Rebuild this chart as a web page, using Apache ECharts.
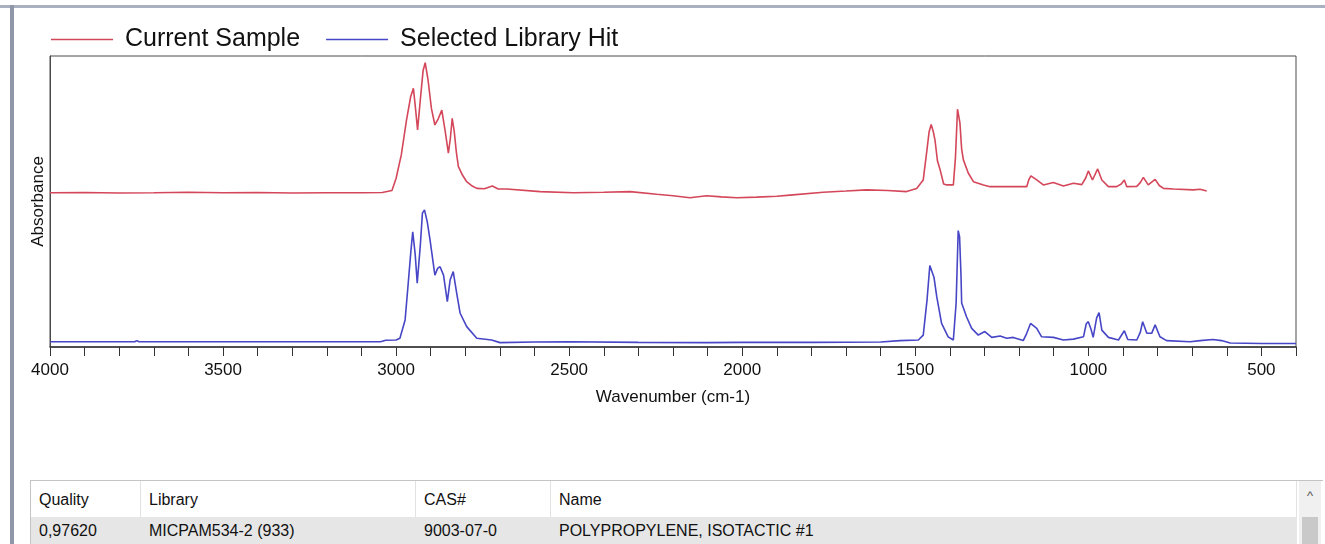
<html>
<head>
<meta charset="UTF-8">
<script src="https://cdn.jsdelivr.net/npm/echarts@6/dist/echarts.min.js"></script>
<title>Spectrum search</title>
<style>
body { margin: 0; background: #fff; font-family: "Liberation Sans", Arial, sans-serif; }
#wrap { position: relative; width: 1325px; height: 544px; overflow: hidden; }
#topbar { position: absolute; left: 0; top: 5px; width: 1325px; height: 3px; background: #a9b0bf; }
#leftbar { position: absolute; left: 10px; top: 5px; width: 4px; height: 539px; background: #8f97a8; }
#main { position: absolute; left: 0; top: 0; width: 1325px; height: 440px; }
#hits { position: absolute; left: 30px; top: 480px; width: 1292px; height: 64px; border-top: 1px solid #c4c4c4; border-left: 1px solid #c4c4c4; font-size: 16px; color: #111; }
#hits .row { position: absolute; left: 0; width: 1266px; }
#hits .cell { position: absolute; top: 0; height: 100%; padding-left: 8px; box-sizing: border-box; }
#hits .head .cell { border-right: 1px solid #e2e2e2; }
#scroll { position: absolute; left: 1268px; top: 0; width: 22px; height: 64px; background: #f0f0f0; }
#thumb { position: absolute; left: 3px; top: 36px; width: 16px; height: 40px; background: #c9c9c9; }
</style>
</head>
<body>
<div id="wrap">
	<div id="topbar"></div>
	<div id="leftbar"></div>
	<div id="main"></div>
	<div id="hits"></div>
</div>
<script type="text/javascript">
	// wavenumber (cm-1), absorbance (arbitrary, sample drawn above the hit)
	var sampleSpectrum = [
		[4000, 53.0], [3900, 53.1], [3800, 52.9], [3700, 53.0], [3600, 53.2], [3500, 53.0],
		[3400, 53.1], [3300, 52.9], [3200, 53.0], [3100, 53.0], [3040, 53.1], [3012, 53.8],
		[3000, 58], [2985, 66], [2970, 78], [2958, 86], [2950, 88.9], [2944, 82], [2938, 74.6],
		[2930, 85], [2922, 95], [2916, 97.7], [2908, 92], [2898, 82], [2888, 76.3], [2878, 78.5],
		[2868, 81.4], [2858, 74], [2849, 66.6], [2843, 72], [2838, 78.6], [2832, 74], [2826, 67],
		[2820, 62.0], [2808, 59], [2796, 56.8], [2780, 55.3], [2767, 54.5], [2745, 54.4],
		[2722, 55.3], [2705, 54.3], [2680, 54.3], [2584, 53.4], [2488, 53.0], [2400, 53.2],
		[2324, 53.4], [2247, 52.5], [2200, 52.0], [2151, 51.3], [2103, 52.0], [2060, 51.6],
		[2016, 51.3], [1958, 51.5], [1900, 51.8], [1862, 52.2], [1766, 53.2], [1700, 53.6],
		[1640, 54.0], [1580, 53.8], [1525, 53.4], [1496, 54.5], [1477, 57.4], [1466, 68],
		[1460, 74], [1454, 76.5], [1448, 74], [1443, 71.1], [1436, 64], [1428, 60.8], [1418, 56],
		[1409, 55.7], [1390, 55.7], [1384, 65], [1378, 81.7], [1371, 77.0], [1366, 68],
		[1361, 64.3], [1347, 59.8], [1332, 56.8], [1303, 55.7], [1284, 55.1], [1255, 55.1],
		[1207, 55.1], [1178, 55.1], [1172, 57.5], [1166, 58.8], [1149, 57.4], [1130, 55.7],
		[1101, 56.5], [1072, 55.3], [1043, 56.3], [1019, 55.8], [1008, 58], [1000, 60.5],
		[988, 57.4], [973, 61.2], [961, 57.4], [942, 55.1], [918, 55.1], [905, 56], [896, 57.4],
		[889, 55.1], [860, 55.2], [850, 56.5], [841, 58.3], [827, 55.7], [807, 57.6], [795, 55.5],
		[783, 54.5], [754, 54.3], [697, 54.0], [677, 54.2], [658, 53.6]
	];
	var libraryHitSpectrum = [
		[4000, 1.8], [3800, 1.8], [3755, 1.8], [3749, 2.2], [3743, 1.8], [3500, 1.8], [3200, 1.8],
		[3045, 1.8], [3030, 2.3], [3000, 2.4], [2989, 3.0], [2974, 9.3], [2965, 21.9], [2958, 32],
		[2952, 39.6], [2945, 32], [2939, 21.9], [2930, 35], [2924, 46], [2918, 47.1], [2910, 43],
		[2902, 36.8], [2888, 24.7], [2880, 27], [2873, 27.6], [2863, 24.7], [2852, 15.6],
		[2844, 23], [2835, 25.9], [2825, 18.5], [2815, 11.6], [2796, 7.0], [2767, 3.0],
		[2724, 2.4], [2700, 1.5], [2600, 1.7], [2500, 1.8], [2300, 1.6], [2100, 1.5], [2000, 1.6],
		[1800, 1.6], [1600, 1.7], [1544, 2.2], [1491, 2.4], [1477, 4.1], [1466, 16.2], [1458, 28],
		[1453, 27.6], [1446, 24], [1438, 17.3], [1424, 8.1], [1405, 3.5], [1390, 2.4], [1382, 15.1],
		[1376, 40], [1372, 37.9], [1368, 25], [1366, 15.1], [1352, 10.4], [1337, 6.4], [1318, 4.1],
		[1299, 5.3], [1279, 3.3], [1255, 3.8], [1236, 3.0], [1217, 3.3], [1188, 2.2], [1178, 4.7],
		[1167, 8.1], [1149, 6.4], [1135, 3.5], [1101, 3.3], [1072, 2.4], [1043, 2.7], [1014, 3.5],
		[1006, 8], [1000, 8.7], [992, 6], [986, 3.3], [976, 10], [969, 11.8], [961, 5.8],
		[942, 3.3], [913, 2.4], [896, 5.6], [886, 2.6], [860, 2.4], [850, 5], [843, 8.7],
		[831, 4.7], [817, 4.7], [807, 7.6], [793, 3.5], [774, 2.2], [706, 1.8], [677, 2.2],
		[640, 2.6], [615, 2.2], [590, 1.4], [500, 1.2], [400, 1.2]
	];
	var xLabelValues = [4000, 3500, 3000, 2500, 2000, 1500, 1000, 500];

	var hitColumns = [ 'Quality', 'Library', 'CAS#', 'Name' ];
	var hitColumnLeft = [ 0, 110, 385, 520 ];
	var hitRow = [ '0,97620', 'MICPAM534-2 (933)', '9003-07-0', 'POLYPROPYLENE, ISOTACTIC #1' ];

	function buildTable() {
		var t = document.getElementById('hits');
		var html = '<div class="row head" style="top:0;height:36px;line-height:38px">';
		for (var i = 0; i < hitColumns.length; i++) {
			var w = (i < hitColumns.length - 1 ? hitColumnLeft[i + 1] : 1266) - hitColumnLeft[i];
			html += '<div class="cell" style="left:' + hitColumnLeft[i] + 'px;width:' + w + 'px">' + hitColumns[i] + '</div>';
		}
		html += '</div><div class="row" style="top:36px;height:30px;line-height:28px;background:#e6e6e6">';
		for (var j = 0; j < hitRow.length; j++) {
			html += '<div class="cell" style="left:' + hitColumnLeft[j] + 'px">' + hitRow[j] + '</div>';
		}
		html += '</div><div id="scroll"><div style="text-align:center;font-size:13px;line-height:30px;color:#555">^</div><div id="thumb"></div></div>';
		t.innerHTML = html;
	}

	window.onload = function() {
		buildTable();
		var myChart = echarts.init(document.getElementById('main'));
		var option = {
			animation : false,
			textStyle : { fontFamily : 'Liberation Sans, Arial, sans-serif' },
			legend : {
				left : 46,
				top : 22,
				icon : 'rect',
				itemWidth : 62,
				itemHeight : 1.6,
				itemGap : 26,
				textStyle : { fontSize : 25, color : '#111', padding : [ 0, 0, 0, 7 ] },
				data : [ 'Current Sample', 'Selected Library Hit' ]
			},
			grid : {
				left : 50,
				right : 29,
				top : 56,
				height : 291,
				show : true,
				borderColor : '#4a4a4a',
				borderWidth : 1
			},
			xAxis : {
				type : 'value',
				inverse : true,
				min : 400,
				max : 4000,
				interval : 100,
				name : 'Wavenumber (cm-1)',
				nameLocation : 'middle',
				nameGap : 42,
				nameTextStyle : { fontSize : 17, color : '#111' },
				axisLine : { onZero : false, lineStyle : { color : '#333', width : 1.5 } },
				axisTick : { length : 9, lineStyle : { color : '#333' } },
				splitLine : { show : false },
				axisLabel : {
					fontSize : 17,
					color : '#111',
					margin : 15,
					formatter : function(v) {
						return xLabelValues.indexOf(v) >= 0 ? String(v) : '';
					}
				}
			},
			yAxis : {
				type : 'value',
				min : 0,
				max : 100,
				name : 'Absorbance',
				nameLocation : 'middle',
				nameRotate : 90,
				nameGap : 3,
				nameTextStyle : { fontSize : 17, color : '#111' },
				axisLine : { show : true, lineStyle : { color : '#4a4a4a' } },
				axisTick : { show : false },
				axisLabel : { show : false },
				splitLine : { show : false }
			},
			series : [ {
				name : 'Current Sample',
				type : 'line',
				symbol : 'none',
				color : '#d4475a',
				lineStyle : { width : 1.6 },
				data : sampleSpectrum
			}, {
				name : 'Selected Library Hit',
				type : 'line',
				symbol : 'none',
				color : '#4646c6',
				lineStyle : { width : 1.6 },
				data : libraryHitSpectrum
			} ]
		};
		myChart.setOption(option);
	}
</script>
</body>
</html>
